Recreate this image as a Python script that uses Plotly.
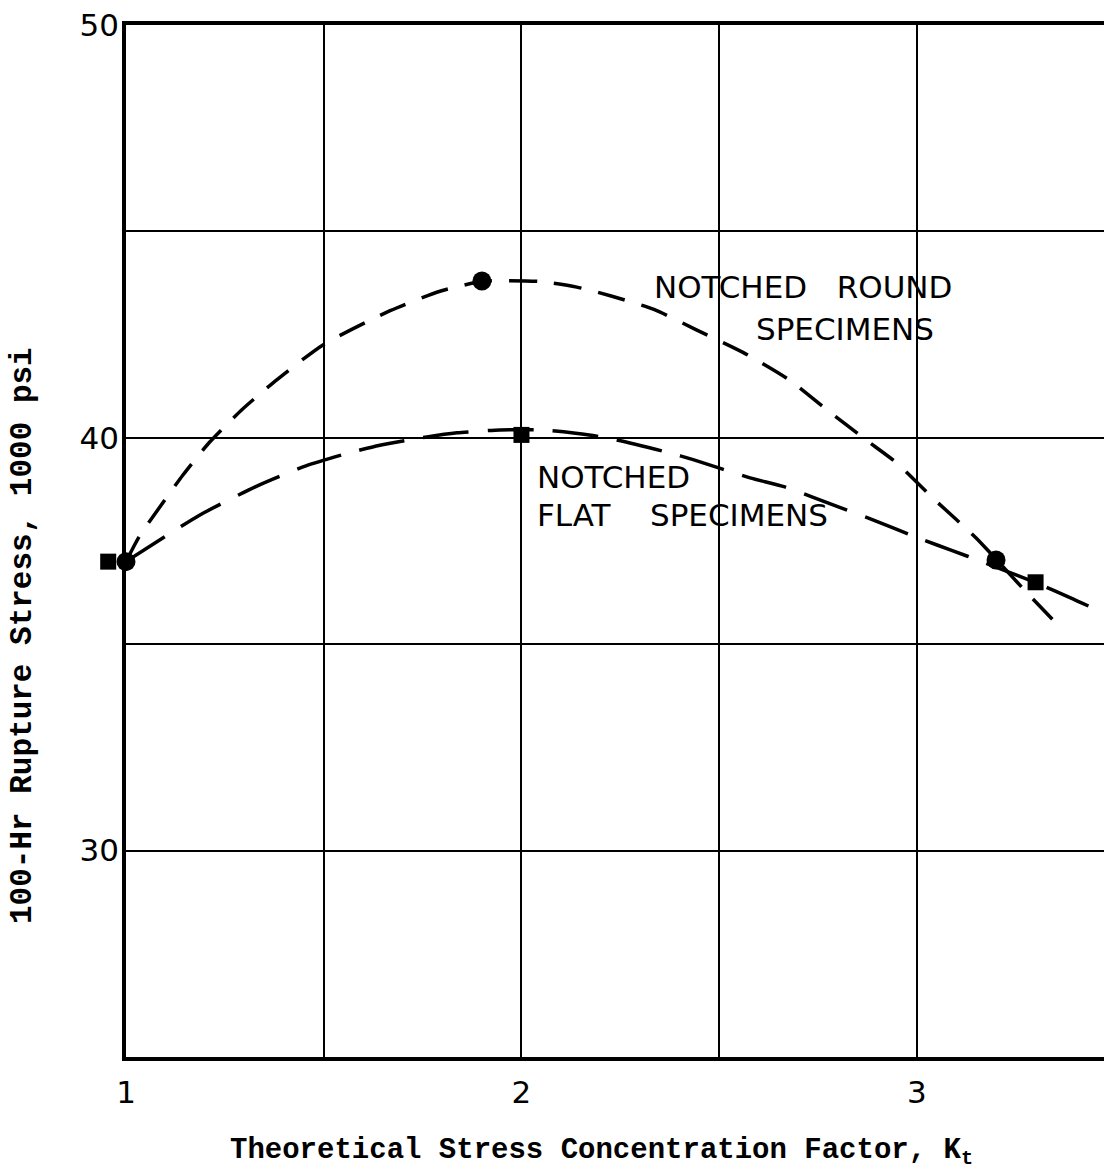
import plotly.graph_objects as go

# Measured rupture data (Kt, stress in 1000 psi)
round_kt = [1.0, 1.9, 3.2]
round_stress = [37.0, 43.8, 37.04]
flat_kt = [2.0, 3.30]
flat_stress = [40.07, 36.5]
# flat-specimen point at Kt = 1, plotted just left of the axis so it clears the round point
flat_base_kt = [0.955]
flat_base_stress = [37.0]

# Faired curves through the data
round_curve_kt = [1.0, 1.033, 1.086, 1.144, 1.210, 1.293, 1.382, 1.498, 1.668, 1.794,
                  1.903, 2.042, 2.140, 2.229, 2.335, 2.441, 2.560, 2.676, 2.772, 2.871,
                  2.949, 3.046, 3.149, 3.202, 3.271, 3.349]
round_curve_stress = [37.0, 37.60, 38.33, 39.10, 39.88, 40.68, 41.41, 42.25, 43.08, 43.55,
                      43.79, 43.79, 43.65, 43.43, 43.11, 42.62, 42.07, 41.41, 40.68, 39.95,
                      39.39, 38.49, 37.58, 37.04, 36.32, 35.54]
flat_curve_kt = [1.0, 1.187, 1.331, 1.455, 1.559, 1.642, 1.761, 1.837, 1.946,
                 2.052, 2.171, 2.239, 2.373, 2.434, 2.578, 2.666, 2.803, 2.871, 3.018,
                 3.086, 3.164, 3.303, 3.387, 3.473]
flat_curve_stress = [37.0, 38.13, 38.83, 39.32, 39.62, 39.82, 40.02, 40.12, 40.19,
                     40.19, 40.07, 39.95, 39.64, 39.47, 39.03, 38.81, 38.32, 38.08, 37.52,
                     37.28, 37.00, 36.48, 36.13, 35.75]

x_tickvals = [1, 1.5, 2, 2.5, 3]
x_ticktext = ["1", "", "2", "", "3"]
y_tickvals = [30, 35, 40, 45, 50]
y_ticktext = ["30", "", "40", "", "50"]

LETTER = "DejaVu Sans"
TYPE = "Liberation Mono"

# layout geometry (pixels)
W, H = 1104, 1173
L, R, T, B = 98, 0, 25, 116
AXIS_PX = 126                      # where Kt = 1 sits
X_MIN, X_MAX = 1.0, 3.473
px_per_unit = (W - R - AXIS_PX) / (X_MAX - X_MIN)
side = (AXIS_PX - L) / (W - L - R)  # paper width of the strip left of the axis

fig = go.Figure()

fig.add_trace(go.Scatter(
    x=round_curve_kt, y=round_curve_stress, mode="lines",
    line=dict(color="black", width=3.5, dash="28px,17px", shape="spline", smoothing=0.6),
    hoverinfo="skip", showlegend=False))
fig.add_trace(go.Scatter(
    x=flat_curve_kt, y=flat_curve_stress, mode="lines",
    line=dict(color="black", width=3.5, dash="46px,19px", shape="spline", smoothing=0.6),
    hoverinfo="skip", showlegend=False))

fig.add_trace(go.Scatter(
    x=flat_kt, y=flat_stress, mode="markers", cliponaxis=False,
    marker=dict(symbol="square", size=16, color="black"), showlegend=False))
fig.add_trace(go.Scatter(
    x=flat_base_kt, y=flat_base_stress, mode="markers", cliponaxis=False,
    xaxis="x2", yaxis="y2",
    marker=dict(symbol="square", size=16, color="black"), showlegend=False))
fig.add_trace(go.Scatter(
    x=round_kt, y=round_stress, mode="markers", cliponaxis=False,
    marker=dict(symbol="circle", size=19, color="black"), showlegend=False))

label_font = dict(family=LETTER, size=31, color="black")
fig.add_annotation(x=2.330, y=43.65, text="NOTCHED   ROUND", showarrow=False,
                   xanchor="left", yanchor="middle", font=label_font)
fig.add_annotation(x=2.588, y=42.64, text="SPECIMENS", showarrow=False,
                   xanchor="left", yanchor="middle", font=label_font)
fig.add_annotation(x=2.034, y=39.04, text="NOTCHED", showarrow=False,
                   xanchor="left", yanchor="middle", font=label_font)
fig.add_annotation(x=2.034, y=38.12, text="FLAT    SPECIMENS", showarrow=False,
                   xanchor="left", yanchor="middle", font=label_font)

# Axis titles
pw, ph = W - L - R, H - T - B
fig.add_annotation(xref="paper", yref="paper", x=(601.5 - L) / pw, y=(H - B - 1152) / ph,
                   text="<b>Theoretical Stress Concentration Factor, K<sub>t</sub></b>",
                   showarrow=False, xanchor="center", yanchor="middle",
                   font=dict(family=TYPE, size=29, color="black"))
fig.add_annotation(xref="paper", yref="paper", x=(23 - L) / pw, y=(H - B - 636) / ph,
                   text="<b>100-Hr Rupture Stress, 1000 psi</b>", textangle=-90,
                   showarrow=False, xanchor="center", yanchor="middle",
                   font=dict(family=TYPE, size=31, color="black"))

fig.update_layout(
    xaxis=dict(
        domain=[side, 1], range=[X_MIN, X_MAX],
        tickvals=x_tickvals, ticktext=x_ticktext,
        showgrid=True, gridcolor="black", gridwidth=2,
        showline=True, linecolor="black", linewidth=4, mirror=True,
        ticks="", ticklabelstandoff=5, zeroline=False,
        tickfont=dict(family=LETTER, size=31, color="black")),
    yaxis=dict(
        range=[25, 50], tickvals=y_tickvals, ticktext=y_ticktext,
        showgrid=True, gridcolor="black", gridwidth=2,
        showline=True, linecolor="black", linewidth=3.5,
        ticks="", ticklabelstandoff=-3, zeroline=False,
        tickfont=dict(family=LETTER, size=31, color="black")),
    xaxis2=dict(
        domain=[0, side], range=[X_MIN - (AXIS_PX - L) / px_per_unit, X_MIN],
        visible=False, anchor="y2"),
    yaxis2=dict(range=[25, 50], visible=False, anchor="x2"),
    width=W, height=H,
    margin=dict(l=L, r=R, t=T, b=B),
    paper_bgcolor="white", plot_bgcolor="rgba(0,0,0,0)",
    showlegend=False)

fig.write_html("out.html")
